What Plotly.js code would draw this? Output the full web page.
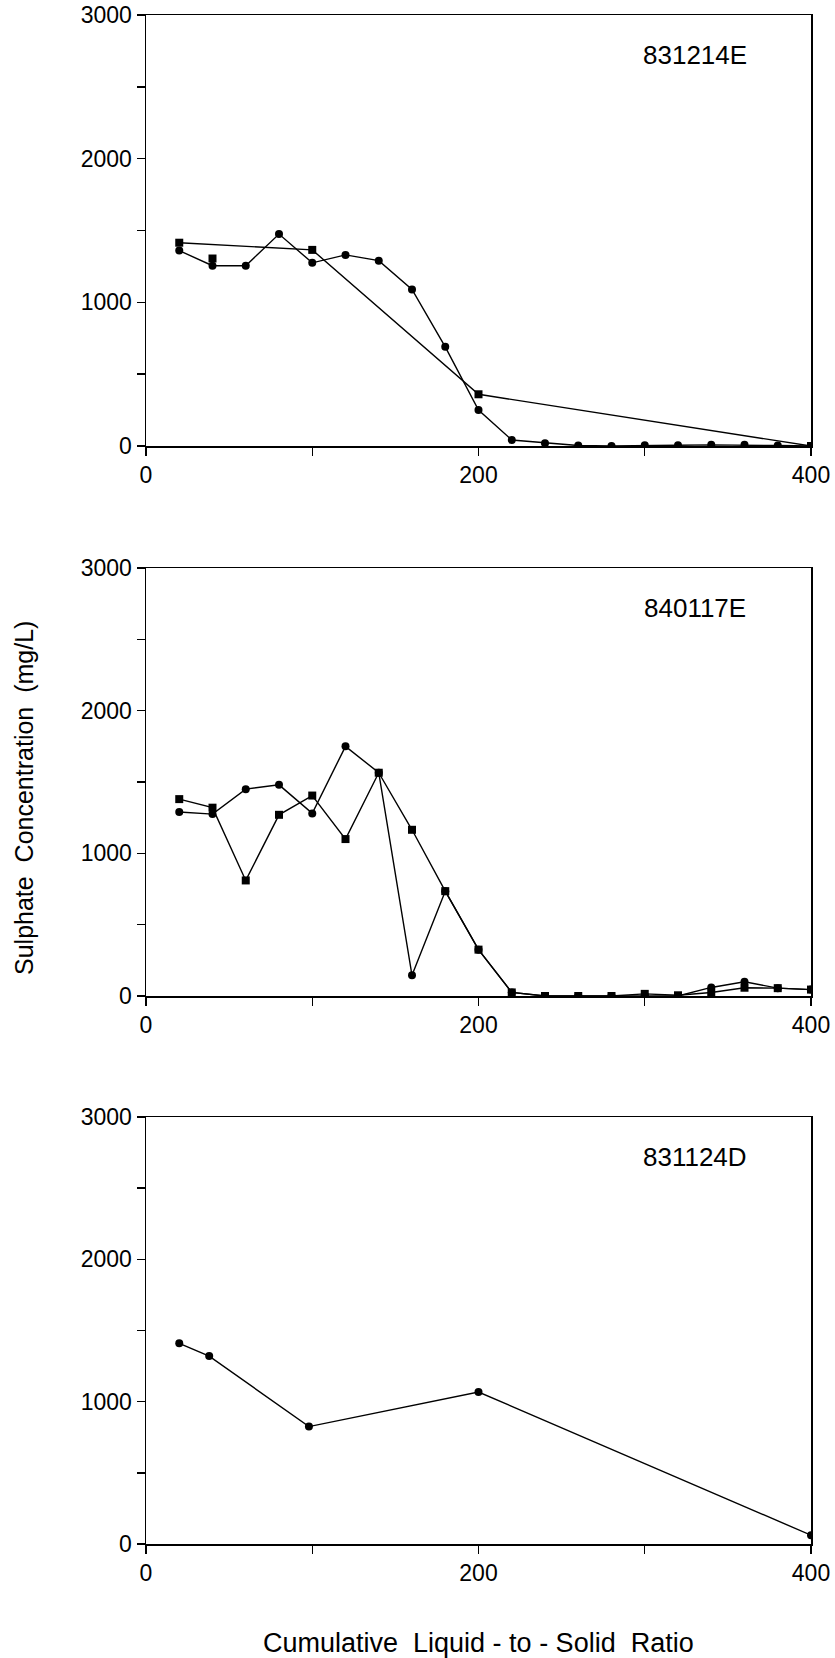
<!DOCTYPE html>
<html>
<head>
<meta charset="utf-8">
<script src="https://cdn.plot.ly/plotly-3.0.1.min.js"></script>
<style>html,body{margin:0;padding:0;background:#fff;}#plot{width:835px;height:1658px;}</style>
</head>
<body>
<div id="plot"></div>
<script>
// ---- data ----
const panelLabels = ["831214E", "840117E", "831124D"];

// panel 1 : 831214E
const p1CircleX = [20,40,60,80,100,120,140,160,180,200,220,240,260,280,300,320,340,360,380,400];
const p1CircleY = [1360,1255,1255,1475,1275,1330,1290,1090,690,250,42,20,3,0,5,5,8,8,3,0];
const p1SquareX = [20,100,200,400];
const p1SquareY = [1415,1365,360,0];
const p1LoneSquareX = [40];
const p1LoneSquareY = [1305];

// panel 2 : 840117E
const p2X = [20,40,60,80,100,120,140,160,180,200,220,240,260,280,300,320,340,360,380,400];
const p2CircleY = [1290,1275,1450,1480,1280,1750,1565,145,735,325,25,0,0,0,3,0,60,100,55,45];
const p2SquareY = [1380,1320,810,1270,1405,1100,1565,1165,735,325,25,0,0,0,15,5,25,58,55,45];

// panel 3 : 831124D
const p3X = [20,38,98,200,400];
const p3Y = [1410,1320,825,1068,62];

// axes
const xTickVals = [0,100,200,300,400];
const xTickText = ["0","","200","","400"];
const yTickVals = [0,500,1000,1500,2000,2500,3000];
const yTickText = ["0","","1000","","2000","","3000"];
const xTitle = "Cumulative\u00a0\u00a0Liquid\u00a0-\u00a0to\u00a0-\u00a0Solid\u00a0\u00a0Ratio";
const yTitle = "Sulphate\u00a0\u00a0Concentration\u00a0\u00a0(mg/L)";

// ---- figure ----
const FONT = "Liberation Sans, Arial, Helvetica, sans-serif";
const W = 835, H = 1658;
const lineStyle = {color: "#000", width: 1.4};

function circ(x, y, ax) {
  return {x: x, y: y, xaxis: "x" + ax, yaxis: "y" + ax, type: "scatter", mode: "lines+markers",
    line: lineStyle, marker: {symbol: "circle", size: 8, color: "#000"}, hoverinfo: "skip", showlegend: false};
}
function sq(x, y, ax, mode) {
  return {x: x, y: y, xaxis: "x" + ax, yaxis: "y" + ax, type: "scatter", mode: mode || "lines+markers",
    line: lineStyle, marker: {symbol: "square", size: 8, color: "#000"}, hoverinfo: "skip", showlegend: false};
}

const traces = [
  circ(p1CircleX, p1CircleY, ""),
  sq(p1SquareX, p1SquareY, ""),
  sq(p1LoneSquareX, p1LoneSquareY, "", "markers"),
  circ(p2X, p2CircleY, "2"),
  sq(p2X, p2SquareY, "2"),
  circ(p3X, p3Y, "3")
];

const xDom = [146 / W, 811 / W];
const yDoms = [
  [1 - 446 / H, 1 - 15 / H],
  [1 - 996 / H, 1 - 568 / H],
  [1 - 1544 / H, 1 - 1117 / H]
];

function xAxis(anchor) {
  return {domain: xDom, anchor: anchor, range: [0, 400], showgrid: false, zeroline: false,
    showline: true, linecolor: "#000", linewidth: 1.5, mirror: true,
    ticks: "outside", ticklen: 8, tickwidth: 1.4, tickcolor: "#000",
    tickmode: "array", tickvals: xTickVals, ticktext: xTickText,
    tickfont: {family: FONT, size: 23, color: "#000"}, fixedrange: true};
}
function yAxis(anchor, dom) {
  return {domain: dom, anchor: anchor, range: [0, 3000], showgrid: false, zeroline: false,
    showline: true, linecolor: "#000", linewidth: 1.5, mirror: true,
    ticks: "outside", ticklen: 8, tickwidth: 1.4, tickcolor: "#000",
    tickmode: "array", tickvals: yTickVals, ticktext: yTickText,
    tickfont: {family: FONT, size: 23, color: "#000"}, fixedrange: true};
}

const annotations = panelLabels.map((t, i) => ({
  text: t, xref: i === 0 ? "x" : "x" + (i + 1), yref: i === 0 ? "y" : "y" + (i + 1),
  x: 330, y: 2720, xanchor: "center", yanchor: "middle", showarrow: false,
  font: {family: FONT, size: 26, color: "#000"}
}));
annotations.push({text: yTitle, xref: "paper", yref: "paper", x: 24 / W, y: 1 - 798 / H,
  xanchor: "center", yanchor: "middle", textangle: -90, showarrow: false,
  font: {family: FONT, size: 25, color: "#000"}});
annotations.push({text: xTitle, xref: "paper", yref: "paper", x: 478 / W, y: 1 - 1643 / H,
  xanchor: "center", yanchor: "middle", showarrow: false,
  font: {family: FONT, size: 27, color: "#000"}});

const layout = {
  width: W, height: H, margin: {l: 0, r: 0, t: 0, b: 0},
  paper_bgcolor: "#fff", plot_bgcolor: "#fff",
  xaxis: xAxis("y"), yaxis: yAxis("x", yDoms[0]),
  xaxis2: xAxis("y2"), yaxis2: yAxis("x2", yDoms[1]),
  xaxis3: xAxis("y3"), yaxis3: yAxis("x3", yDoms[2]),
  annotations: annotations, showlegend: false
};

Plotly.newPlot("plot", traces, layout, {staticPlot: true, displayModeBar: false});
</script>
</body>
</html>
